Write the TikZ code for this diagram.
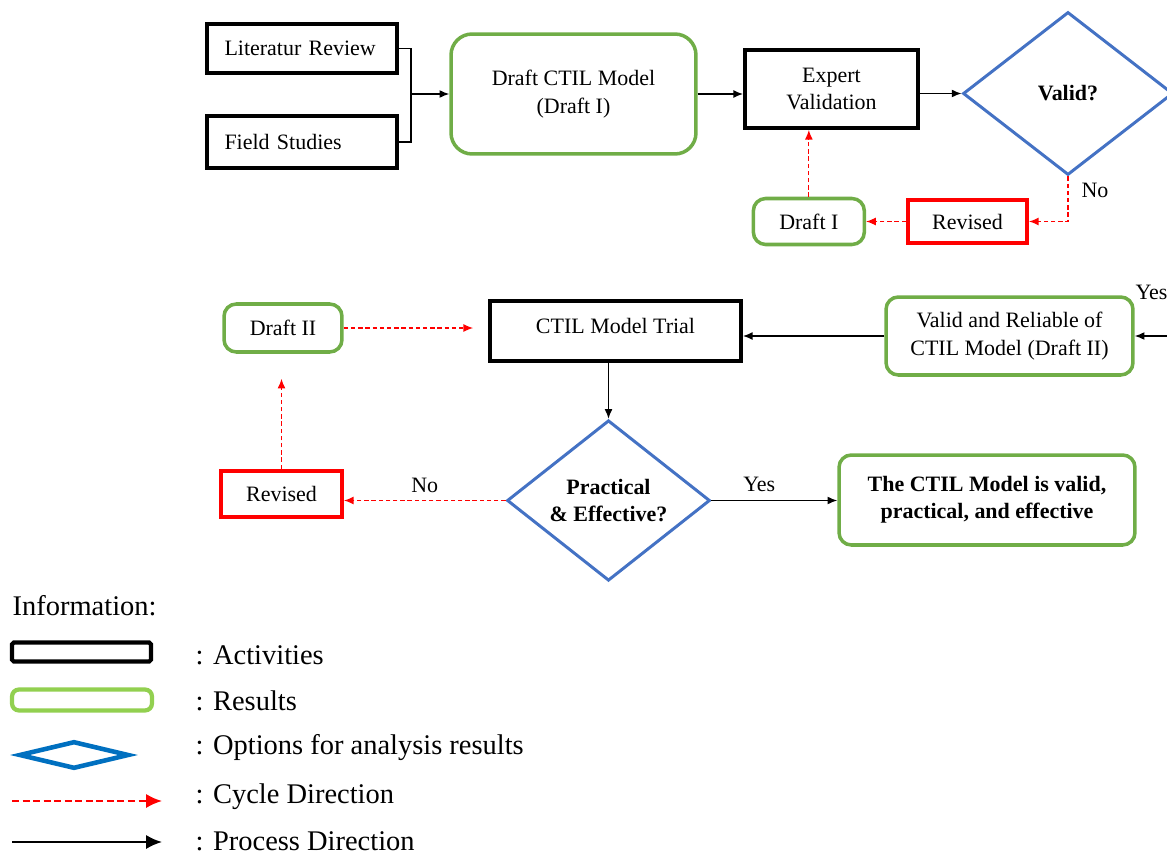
\documentclass[tikz,border=0pt]{standalone}
\usepackage{fontspec}
\setmainfont{Liberation Serif}
\usetikzlibrary{shapes.geometric, arrows.meta}
\usetikzlibrary{calc, positioning}

\definecolor{resultgreen}{HTML}{70AD47}
\definecolor{revisedred}{HTML}{FF0000}
\definecolor{optionblue}{HTML}{4472C4}
\definecolor{legendgreen}{HTML}{92D050}
\definecolor{legendblue}{HTML}{0070C0}

\begin{document}
\begin{tikzpicture}[x = 0.02cm, y = -0.02cm, > = {Latex[length=5.5pt, width=4.5pt]}, line width = 0.8pt,
    font = \fontsize{12.5}{15.5}\selectfont]
    \tikzset{
      my activity/.style 2 args={
        draw, line width=2.2pt, minimum width=#1, minimum height=#2,
        inner sep=2pt, align=center
      },
      my result/.style 2 args={
        draw=resultgreen, line width=2pt, rounded corners=7pt,
        minimum width=#1, minimum height=#2, inner sep=2pt, align=center
      },
      my revised/.style 2 args={
        draw=revisedred, line width=2.2pt, minimum width=#1, minimum height=#2,
        inner sep=2pt, align=center
      },
      my option/.style 2 args={
        diamond, draw=optionblue, line width=1.7pt, minimum width=#1,
        minimum height=#2, inner sep=0pt, align=center, font=\fontsize{12.5}{15.5}\selectfont\bfseries
      },
      my cycle/.style={->, draw=revisedred, dash pattern=on 2.5pt off 1.6pt, line width=0.7pt},
      my process/.style={->, line width=0.8pt},
      my legend/.style={anchor=west, inner sep=0pt, font=\fontsize{16.2}{18}\selectfont},
    }
    \useasboundingbox (0,0) rectangle (1167,855);

    % First stage
    \node (literatur) [my activity={3.8cm}{0.98cm}, text width=3.1cm, align=left] at (302,48.5) {Literatur Review};
    \node (field) [my activity={3.8cm}{1.04cm}, text width=3.1cm, align=left, below=0.78cm of literatur] {Field Studies};
    \node (draftctil) [my result={4.9cm}{2.4cm}, rounded corners=12pt] at (573.5,94) {Draft CTIL Model\\(Draft I)};
    \node (expert) [my activity={3.46cm}{1.56cm}] at (831.5,89) {Expert\\Validation};
    \node (valid) [my option={4.2cm}{3.26cm}] at (1068,93.5) {Valid?};
    \node (reviseda) [my revised={2.38cm}{0.86cm}] at (967.5,221.5) {Revised};
    \node (drafti) [my result={2.22cm}{0.92cm}, left=0.8cm of reviseda] {Draft I};

    \coordinate (join) at (411,94);
    \draw (literatur.east) -| (join) |- (field.east);
    \draw[my process] (join) -- (draftctil.west);
    \draw[my process] (draftctil.east) -- (draftctil.east -| expert.west);
    \draw[my process] (valid.west -| expert.east) -- (valid.west);
    \draw[my cycle] (valid.south) |- (reviseda.east);
    \node (noa) at (1095,190) {No};
    \draw[my cycle] (reviseda.west) -- (drafti.east);
    \draw[my cycle] (drafti.north) -- (drafti.north |- expert.south);

    % Second stage
    \node (validrel) [my result={4.94cm}{1.56cm}] at (1009.5,336) {Valid and Reliable of\\CTIL Model (Draft II)};
    \node (trial) [my activity={5.02cm}{1.2cm}, text depth=6pt] at (615.5,331) {CTIL Model Trial};
    \node (draftii) [my result={2.36cm}{0.96cm}] at (283,328) {Draft II};
    \node (practical) [my option={4.06cm}{2.98cm}] at (608.5,500.5) {Practical\\\& Effective?};
    \node (final) [my result={5.92cm}{1.8cm}, font=\fontsize{12.5}{15.5}\selectfont\bfseries] at (987,500)
    {The CTIL Model is valid,\\practical, and effective};
    \node (revisedb) [my revised={2.42cm}{0.92cm}] at (281.5,494) {Revised};

    \draw[my process] (valid.east) -- ++(30,0) |- (validrel.east);
    \node (yesa) [anchor=west] at (1129,292) {Yes};
    \draw[my process] (validrel.west) -- (validrel.west -| trial.east);
    \draw[my cycle, shorten >= 0.3cm] (draftii.east) -- (draftii.east -| trial.west);
    \draw[my process] (practical.north |- trial.south) -- (practical.north);
    \draw[my process] (practical.east) -- node[above, pos=0.38, yshift=1pt] (yesb) {Yes} (practical.east -| final.west);
    \draw[my cycle] (practical.west) -- node[above, yshift=1pt] (nob) {No} (practical.west -| revisedb.east);
    \draw[my cycle, shorten >= 0.5cm] (revisedb.north) -- (revisedb.north |- draftii.south);

    % Legend
    \node (information) [my legend] at (12,606) {Information:};
    \node (legactivity) [draw, line width=2.4pt, minimum width=2.78cm, minimum height=0.38cm,
      inner sep=0pt, rounded corners=1pt] at (81.5,652) {};
    \node (legresult) [draw=legendgreen, line width=2.4pt, minimum width=2.8cm, minimum height=0.42cm,
      inner sep=0pt, rounded corners=4pt] at (82,700) {};
    \node (legoption) [diamond, draw=legendblue, line width=2.6pt, minimum width=2.2cm, minimum height=0.55cm,
      inner sep=0pt] at (74,755) {};
    \coordinate (cyclestart) at (12,801);
    \coordinate (cycleend) at (162,801);
    \coordinate (processstart) at (12,842);
    \coordinate (processend) at (162,842);
    \draw[my cycle, line width=1.2pt, dash pattern=on 4pt off 2pt, -{Latex[length=9pt, width=8pt]}] (cyclestart) -- (cycleend);
    \draw[my process, line width=1.2pt, -{Latex[length=9pt, width=8pt]}] (processstart) -- (processend);
    \foreach \legtext/\legy in {Activities/655, Results/701, Options for analysis results/748,
      Cycle Direction/797, Process Direction/841} {
      \node (legend\legy) [my legend] at (195,\legy) {: \legtext};
    }

  \end{tikzpicture}
\end{document}
